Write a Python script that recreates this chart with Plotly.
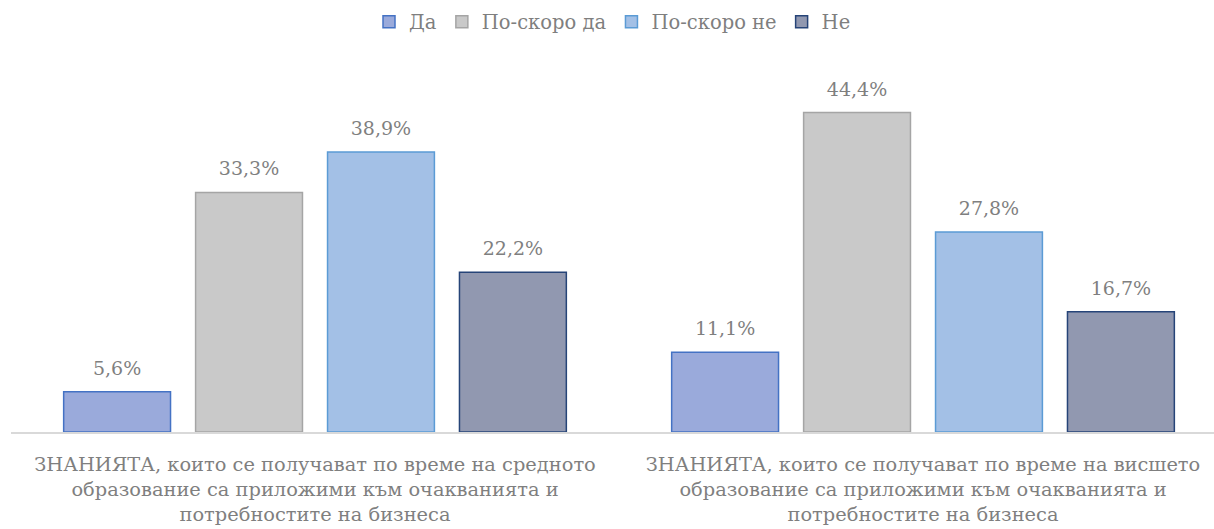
import plotly.graph_objects as go

# Survey answers (share of respondents, %)
categories = [
    "ЗНАНИЯТА, които се получават по време на средното<br>образование са приложими към очакванията и<br>потребностите на бизнеса",
    "ЗНАНИЯТА, които се получават по време на висшето<br>образование са приложими към очакванията и<br>потребностите на бизнеса",
]
series_names = ["Да", "По-скоро да", "По-скоро не", "Не"]
da = [5.6, 11.1]
po_skoro_da = [33.3, 44.4]
po_skoro_ne = [38.9, 27.8]
ne = [22.2, 16.7]

series_values = [da, po_skoro_da, po_skoro_ne, ne]
fills = ["#9aaadb", "#c9c9c9", "#a3c0e6", "#9198b0"]
borders = ["#4472c4", "#a5a5a5", "#5b9bd5", "#264478"]

FONT = "DejaVu Serif"
GREY = "#7f7f7f"

fig = go.Figure()
for i, (name, vals, fc, bc) in enumerate(zip(series_names, series_values, fills, borders)):
    fig.add_trace(go.Bar(
        name=name,
        x=categories,
        y=vals,
        offsetgroup=str(i),
        alignmentgroup="g",
        marker=dict(color=fc, line=dict(color=bc, width=1.5)),
    ))
    # value labels floated above each bar by an invisible marker
    fig.add_trace(go.Scatter(
        x=categories,
        y=vals,
        offsetgroup=str(i),
        alignmentgroup="g",
        mode="markers+text",
        marker=dict(size=18, color="rgba(0,0,0,0)"),
        text=[f"{v:.1f}%".replace(".", ",") for v in vals],
        textposition="top center",
        textfont=dict(family=FONT, size=19, color=GREY),
        cliponaxis=False,
        showlegend=False,
        hoverinfo="skip",
    ))

fig.update_layout(
    width=1214,
    height=529,
    margin=dict(l=11, r=0, t=60, b=97),
    paper_bgcolor="white",
    plot_bgcolor="white",
    barmode="group",
    scattermode="group",
    bargap=0.132,
    scattergap=0.132,
    bargroupgap=0.19,
    font=dict(family=FONT, size=19, color=GREY),
    showlegend=True,
    legend=dict(
        orientation="h",
        x=0.5, xanchor="center",
        y=1.102, yanchor="middle",
        font=dict(family=FONT, size=19.5, color=GREY),
        itemclick=False,
    ),
    xaxis=dict(
        range=[-0.5, 1.4786],
        showgrid=False,
        showline=True,
        linecolor="#d9d9d9",
        linewidth=1.5,
        ticks="",
        tickfont=dict(family=FONT, size=19.4, color=GREY),
        ticklabelstandoff=14,
    ),
    yaxis=dict(
        range=[0, 51.7],
        showgrid=False,
        showline=False,
        zeroline=False,
        showticklabels=False,
        ticks="",
    ),
)

fig.write_html("out.html")
